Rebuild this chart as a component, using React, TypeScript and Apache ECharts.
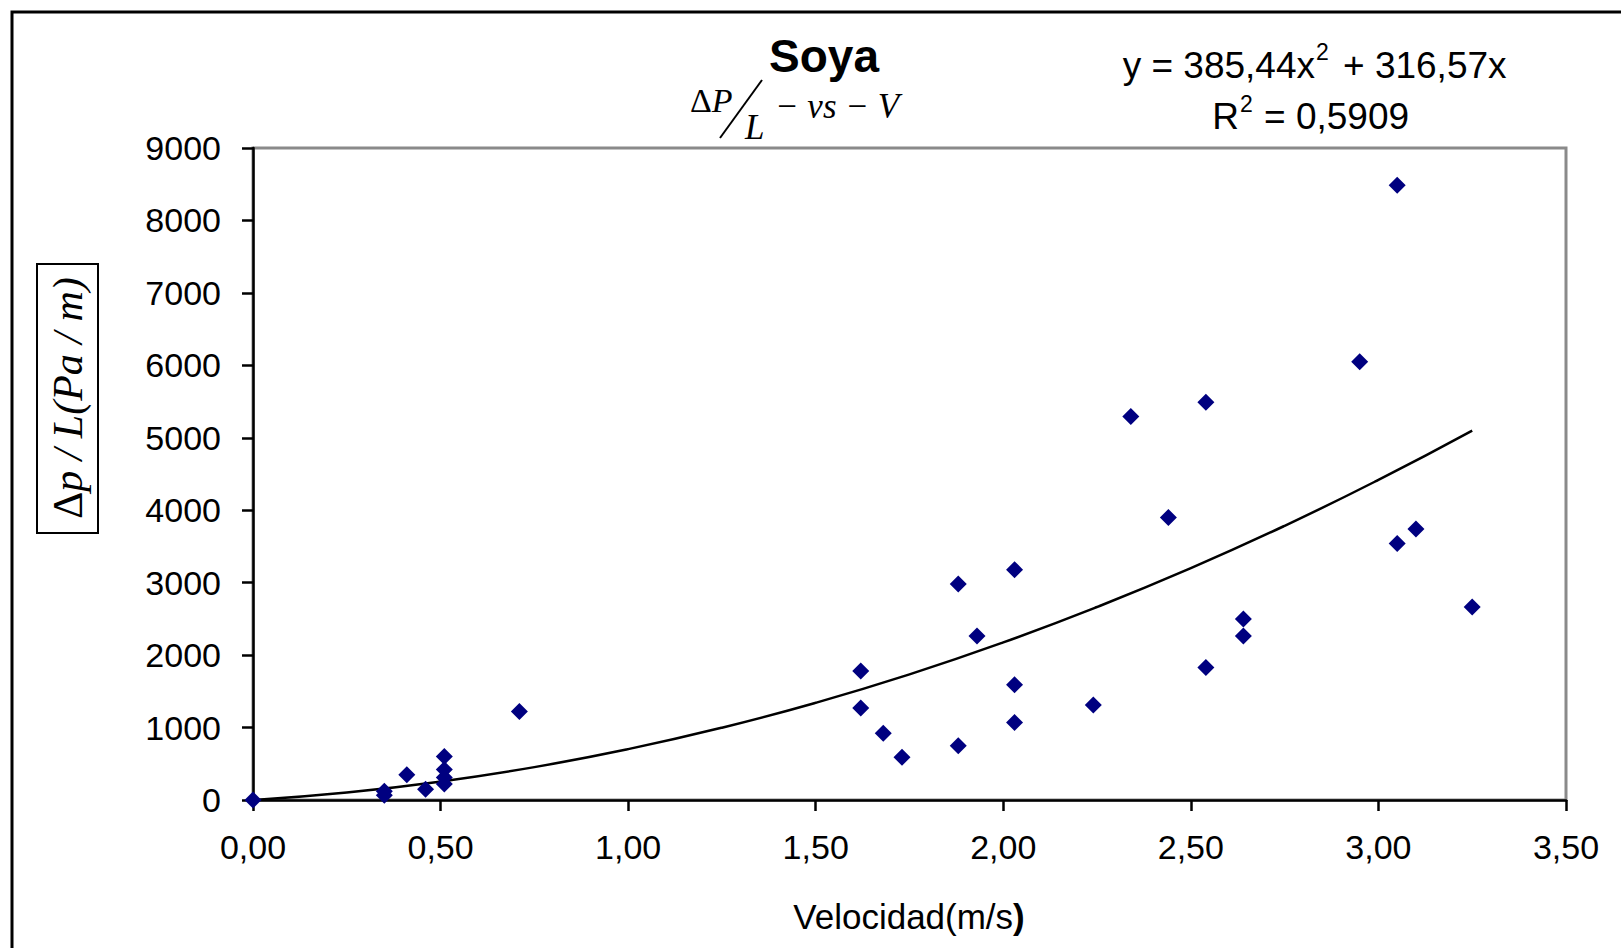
import React, { useEffect, useRef } from "react";
import * as echarts from "echarts";

const velocidad = [0, 0.35, 0.35, 0.41, 0.46, 0.51, 0.51, 0.51, 0.51, 0.71, 1.62, 1.62, 1.68, 1.73, 1.88, 1.88, 1.93, 2.03, 2.03, 2.03, 2.24, 2.34, 2.44, 2.54, 2.54, 2.64, 2.64, 2.95, 3.05, 3.05, 3.1, 3.25];
const presion = [0, 120, 65, 350, 150, 600, 420, 310, 220, 1220, 1780, 1270, 920, 590, 2980, 750, 2265, 3180, 1590, 1070, 1310, 5295, 3900, 5490, 1830, 2500, 2265, 6050, 8485, 3540, 3740, 2665];

const trendX = [0, 0.25, 0.5, 0.75, 1.0, 1.25, 1.5, 1.75, 2.0, 2.25, 2.5, 2.75, 3.0, 3.25];
const trendY = [0, 103, 255, 454, 702, 998, 1342, 1734, 2175, 2664, 3200, 3785, 4419, 5100];

const title = "Soya";
const eqLeft = "y = 385,44x";
const eqRight = "+ 316,57x";
const r2Value = "= 0,5909";

const SANS = "'Liberation Sans', Arial, sans-serif";
const SERIF = "'Liberation Serif', 'Times New Roman', serif";

export default function App() {
  const ref = useRef<HTMLDivElement>(null);
  useEffect(() => {
    if (!ref.current) return;
    const chart = echarts.init(ref.current, null, { renderer: "svg" });
    const scatterData = velocidad.map((v, i) => [v, presion[i]]);
    const trendData = trendX.map((v, i) => [v, trendY[i]]);
    chart.setOption({
      animation: false,
      backgroundColor: "#ffffff",
      grid: { left: 253, right: 55, top: 148, bottom: 148, show: true, borderColor: "#8a8a8a", borderWidth: 3, backgroundColor: "#ffffff" },
      xAxis: {
        type: "value",
        min: 0,
        max: 3.5,
        interval: 0.5,
        splitLine: { show: false },
        axisLine: { show: true, onZero: false, lineStyle: { color: "#000", width: 2.5 } },
        axisTick: { show: true, inside: false, length: 11, lineStyle: { color: "#000", width: 2.5 } },
        axisLabel: {
          margin: 30,
          color: "#000",
          fontSize: 34,
          fontFamily: SANS,
          formatter: (v: number) => v.toFixed(2).replace(".", ","),
        },
      },
      yAxis: {
        type: "value",
        min: 0,
        max: 9000,
        interval: 1000,
        splitLine: { show: false },
        axisLine: { show: true, onZero: false, lineStyle: { color: "#000", width: 2.5 } },
        axisTick: { show: true, inside: false, length: 11, lineStyle: { color: "#000", width: 2.5 } },
        axisLabel: { margin: 32, color: "#000", fontSize: 34, fontFamily: SANS, formatter: (v: number) => String(v) },
      },
      series: [
        {
          type: "line",
          data: trendData,
          smooth: true,
          showSymbol: false,
          symbol: "none",
          lineStyle: { color: "#000", width: 2.5 },
          z: 2,
        },
        {
          type: "scatter",
          data: scatterData,
          symbol: "diamond",
          symbolSize: 17,
          itemStyle: { color: "#000080", opacity: 1 },
          z: 3,
        },
      ],
      graphic: [
        { type: "rect", shape: { x: 12, y: 12, width: 1700, height: 1000 }, style: { fill: "none", stroke: "#000", lineWidth: 3 }, z: 10 },
        { type: "text", x: 824, y: 56, style: { text: title, font: `bold 46px ${SANS}`, fill: "#000", align: "center", verticalAlign: "middle" }, z: 10 },
        {
          type: "text",
          x: 690,
          y: 100,
          style: {
            text: "{d|Δ}{p|P}",
            align: "left",
            verticalAlign: "middle",
            rich: {
              d: { fontSize: 34, fontFamily: SERIF, fill: "#000" },
              p: { fontSize: 34, fontFamily: SERIF, fontStyle: "italic", fill: "#000" },
            },
          },
          z: 10,
        },
        { type: "line", shape: { x1: 720, y1: 138, x2: 762, y2: 80 }, style: { stroke: "#000", lineWidth: 2 }, z: 10 },
        { type: "text", x: 745, y: 127, style: { text: "L", font: `italic 35px ${SERIF}`, fill: "#000", align: "left", verticalAlign: "middle" }, z: 10 },
        { type: "text", x: 775, y: 106, style: { text: "− vs − V", font: `italic 35px ${SERIF}`, fill: "#000", align: "left", verticalAlign: "middle" }, z: 10 },
        { type: "text", x: 1315, y: 65, style: { text: eqLeft, font: `37px ${SANS}`, fill: "#000", align: "right", verticalAlign: "middle" }, z: 10 },
        { type: "text", x: 1316, y: 52, style: { text: "2", font: `23px ${SANS}`, fill: "#000", align: "left", verticalAlign: "middle" }, z: 10 },
        { type: "text", x: 1343, y: 65, style: { text: eqRight, font: `37px ${SANS}`, fill: "#000", align: "left", verticalAlign: "middle" }, z: 10 },
        { type: "text", x: 1239, y: 116, style: { text: "R", font: `37px ${SANS}`, fill: "#000", align: "right", verticalAlign: "middle" }, z: 10 },
        { type: "text", x: 1240, y: 104, style: { text: "2", font: `23px ${SANS}`, fill: "#000", align: "left", verticalAlign: "middle" }, z: 10 },
        { type: "text", x: 1264, y: 116, style: { text: r2Value, font: `37px ${SANS}`, fill: "#000", align: "left", verticalAlign: "middle" }, z: 10 },
        { type: "rect", shape: { x: 37, y: 264, width: 61, height: 269 }, style: { fill: "#fff", stroke: "#000", lineWidth: 2 }, z: 10 },
        {
          type: "text",
          x: 68,
          y: 398,
          rotation: Math.PI / 2,
          style: {
            text: "{d|Δ}{i|p / L(Pa / m)}",
            align: "center",
            verticalAlign: "middle",
            rich: {
              d: { fontSize: 42, fontFamily: SERIF, fill: "#000" },
              i: { fontSize: 42, fontFamily: SERIF, fontStyle: "italic", fill: "#000" },
            },
          },
          z: 11,
        },
        {
          type: "text",
          x: 909,
          y: 916,
          style: {
            text: "{n|Velocidad(m/s}{b|)}",
            fill: "#000",
            align: "center",
            verticalAlign: "middle",
            rich: {
              n: { fontSize: 35, fontFamily: SANS, fill: "#000" },
              b: { fontSize: 35, fontFamily: SANS, fontWeight: "bold", fill: "#000" },
            },
          },
          z: 10,
        },
      ],
    });
    return () => chart.dispose();
  }, []);
  return <div ref={ref} style={{ position: "fixed", left: 0, top: 0, width: 1621, height: 948, background: "#fff" }} />;
}
